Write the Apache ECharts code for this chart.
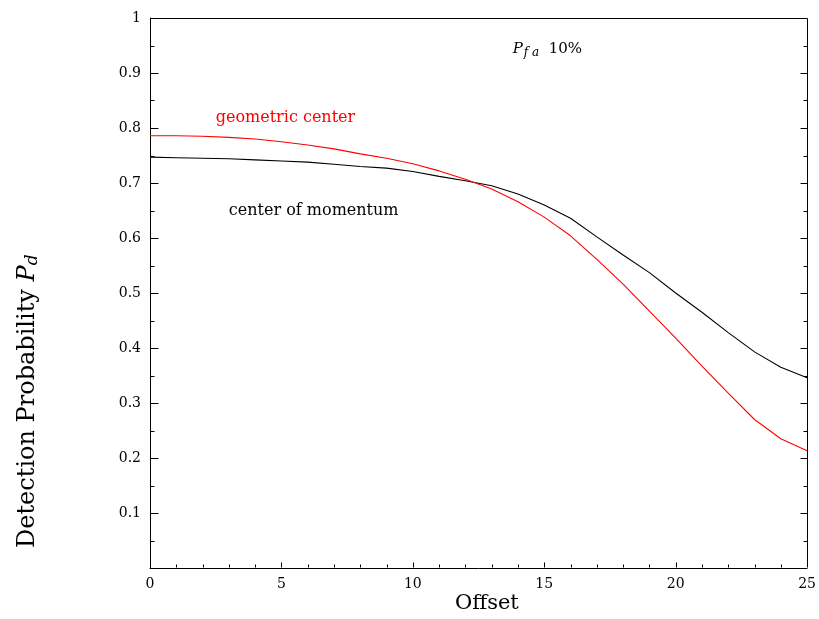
<!DOCTYPE html>
<html><head><meta charset="utf-8">
<script src="https://cdn.jsdelivr.net/npm/echarts@6/dist/echarts.min.js"></script>
<style>html,body{margin:0;padding:0;background:#fff}#c{width:819px;height:619px}</style>
</head><body><div id="c"></div>
<script>
var offsets = [0,1,2,3,4,5,6,7,8,9,10,11,12,13,14,15,16,17,18,19,20,21,22,23,24,25];
var momentum = [0.747,0.746,0.745,0.744,0.742,0.740,0.738,0.734,0.730,0.727,0.721,0.712,0.704,0.695,0.680,0.660,0.636,0.602,0.569,0.537,0.500,0.465,0.428,0.393,0.365,0.346];
var geometric = [0.786,0.786,0.785,0.783,0.780,0.775,0.769,0.762,0.753,0.745,0.735,0.722,0.707,0.689,0.666,0.638,0.604,0.561,0.516,0.467,0.418,0.367,0.318,0.270,0.235,0.213];
var xTicks = [0,5,10,15,20,25];
var yTicks = [0.1,0.2,0.3,0.4,0.5,0.6,0.7,0.8,0.9,1];

var FONT = 'DejaVu Serif';
var chart = echarts.init(document.getElementById('c'), null, {renderer:'canvas'});
function pairs(ys){ return offsets.map(function(x,i){return [x, ys[i]];}); }
var lineAxis = {show:true, lineStyle:{color:'#000', width:1}};
chart.setOption({
  animation:false,
  backgroundColor:'#fff',
  grid:{left:150, right:11, top:18, bottom:51, containLabel:false},
  xAxis:{
    type:'value', min:0, max:25, interval:5,
    axisLine:lineAxis, axisTick:{show:false}, minorTick:{show:false},
    splitLine:{show:false},
    axisLabel:{color:'#000', fontFamily:FONT, fontSize:14, margin:9,
      formatter:function(v){ return xTicks.indexOf(v)>=0 ? String(v) : ''; }}
  },
  yAxis:{
    type:'value', min:0, max:1, interval:0.1,
    axisLine:lineAxis, axisTick:{show:false}, minorTick:{show:false},
    splitLine:{show:false},
    axisLabel:{color:'#000', fontFamily:FONT, fontSize:14, margin:9, padding:[3,0,0,0],
      formatter:function(v){ var r=Math.round(v*10)/10; return yTicks.indexOf(r)>=0 ? (r===1?'1':r.toFixed(1)) : ''; }}
  },
  series:[
    {name:'center of momentum', type:'line', data:pairs(momentum), showSymbol:false, symbol:'none',
     lineStyle:{color:'#000', width:1.1}, z:3},
    {name:'geometric center', type:'line', data:pairs(geometric), showSymbol:false, symbol:'none',
     lineStyle:{color:'#ff0000', width:1.1}, z:4}
  ]
});

function px(x,y){ return chart.convertToPixel({xAxisIndex:0, yAxisIndex:0}, [x,y]); }
var g = [];
var pO = px(0,0), pE = px(25,1);
var x0 = Math.round(pO[0]) + 0.5, x1 = Math.round(pE[0]) + 0.5;
var yb = Math.round(pO[1]) - 0.5, yt = Math.round(pE[1]) + 0.5;
function seg(xa,ya,xb,yb2){ g.push({type:'line', silent:true, z:100, shape:{x1:xa,y1:ya,x2:xb,y2:yb2}, style:{stroke:'#000', lineWidth:1}}); }
seg(x0, yt, x1, yt);
seg(x1, yt, x1, yb);
for (var k=1; k<20; k++) {
  var v = k*0.05, yy = Math.round(px(0,v)[1]) + 0.5;
  var major = (k%2===0);
  seg(x0, yy, x0 + (major?8:4), yy);
  seg(x1, yy, x1 - (major?7:4), yy);
}
for (var j=1; j<25; j++) {
  var xx = Math.round(px(j,0)[0]) + 0.5;
  seg(xx, yb, xx, yb - (j%5===0?5:3));
}
var pG = px(2.5, 0.82), pM = px(3, 0.65), pP = px(13.8, 0.94);
g.push(
  {type:'text', left:pG[0], top:pG[1]-7, style:{text:'geometric center', fill:'#ff0000', font:'16px "'+FONT+'"'}},
  {type:'text', left:pM[0], top:pM[1]-8, style:{text:'center of momentum', fill:'#000', font:'16px "'+FONT+'"'}},
  {type:'text', left:pP[0], top:pP[1]-9, style:{
    text:'{i|P}{s|f a}{n|  10%}',
    rich:{
      i:{fontFamily:FONT, fontStyle:'italic', fontSize:15, fill:'#000'},
      s:{fontFamily:FONT, fontStyle:'italic', fontSize:12, fill:'#000', padding:[6,0,0,1]},
      n:{fontFamily:FONT, fontSize:15, fill:'#000'}
    }}},
  {type:'text', left:455, top:593, style:{text:'Offset', fill:'#000', font:'21px "'+FONT+'"'}},
  {type:'text', x:15, y:548, rotation:Math.PI/2, style:{
    text:'{n|Detection Probability }{i|P}{s|d}',
    rich:{
      n:{fontFamily:FONT, fontSize:24, fill:'#000'},
      i:{fontFamily:FONT, fontStyle:'italic', fontSize:24, fill:'#000'},
      s:{fontFamily:FONT, fontStyle:'italic', fontSize:17, fill:'#000', padding:[9,0,0,0]}
    }}}
);
chart.setOption({graphic:{elements:g}});
</script></body></html>
